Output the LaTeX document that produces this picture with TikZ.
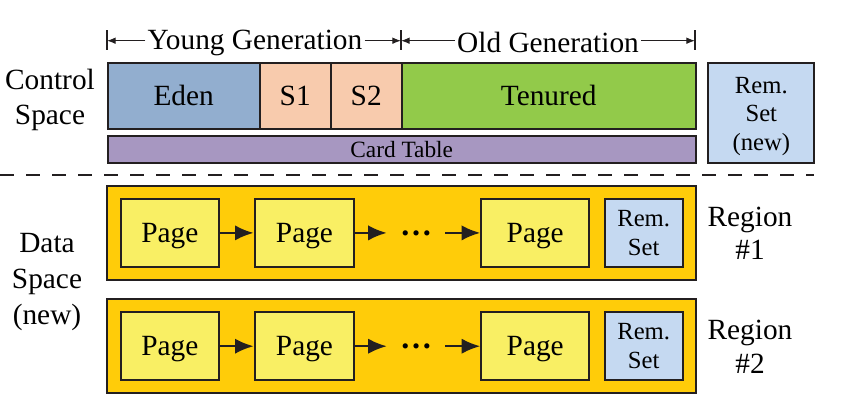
\documentclass[tikz,border=0pt]{standalone}
\usepackage{fontspec}
\setmainfont{Liberation Serif}
\usetikzlibrary{arrows.meta}

\definecolor{edenblue}{RGB}{146,174,207}
\definecolor{survpeach}{RGB}{248,203,173}
\definecolor{tenuredgreen}{RGB}{146,202,74}
\definecolor{cardpurple}{RGB}{167,151,193}
\definecolor{remblue}{RGB}{197,217,241}
\definecolor{regiongold}{RGB}{255,204,9}
\definecolor{pageyellow}{RGB}{249,239,100}
\definecolor{edge}{RGB}{35,31,32}

\tikzset{every picture/.style={line width=1.5pt}}
\tikzset{
  box/.style={draw=edge, inner sep=0pt, font=\fontsize{22}{26}\selectfont},
  remset/.style={box, fill=remblue, align=center, font=\fontsize{18.5}{21.5}\selectfont},
  page/.style={box, fill=pageyellow, minimum height=50.8pt, text depth=0pt},
  region/.style={box, fill=regiongold, minimum width=441.75pt, minimum height=70.5pt},
  label/.style={align=center, inner sep=0pt, font=\fontsize{22}{26.25}\selectfont},
  link/.style={draw=edge, line width=1.9pt, -{Latex[length=14pt,width=11.5pt]}},
  span/.style={draw=edge, line width=0.8pt, -{Latex[length=6.5pt,width=5pt]}}
}

\begin{document}
\begin{tikzpicture}[x=0.75pt,y=0.75pt,yscale=-1,xscale=1]
\useasboundingbox (0,0) rectangle (864,414);

%Generation spans
\draw[edge, line width=0.8pt] (107,30) -- (107,50) (401,30) -- (401,50) (695,30) -- (695,50) ;
\coordinate (yl) at (107,40.7);
\coordinate (ym) at (401,40.7);
\coordinate (yr) at (695,40.7);
% Text Node
\node[label, inner sep=1pt] (young) at (255,42.5) {Young Generation};
% Text Node
\node[label, inner sep=1pt] (old) at (548,42.5) {Old Generation};
\draw[span] (young.west |- yl) -- (yl);
\draw[span] (young.east |- ym) -- (ym);
\draw[span] (old.west |- ym) -- (ym);
\draw[span] (old.east |- yr) -- (yr);

%Control space
\node[label] (ctrl) at (50,100) {Control\\Space};
\node[box, fill=edenblue, minimum width=114pt, minimum height=49.5pt] (eden) at (183.7,95.7) {Eden};
\node[box, fill=survpeach, minimum width=53.25pt, minimum height=49.5pt] (s1) at (295.2,95.7) {S1};
\node[box, fill=survpeach, minimum width=53.25pt, minimum height=49.5pt] (s2) at (366.2,95.7) {S2};
\node[box, fill=tenuredgreen, minimum width=220.5pt, minimum height=49.5pt] (tenured) at (548.7,95.7) {Tenured};
\node[box, fill=cardpurple, minimum width=441pt, minimum height=20pt, font=\fontsize{17.5}{20}\selectfont] (card) at (401.7,149.3) {Card Table};
\node[box, fill=remblue, minimum width=79.5pt, minimum height=75pt] (rsnew) at (761.3,112.7) {};
% Text Node
\node[align=center, inner sep=0pt, font=\fontsize{18.5}{21.5}\selectfont] (rsnewtxt) at (761.3,116.5) {Rem.\\Set\\(new)};

%Separator
\draw[edge, line width=1.1pt, dash pattern=on 10.5pt off 9pt] (0,175) -- (814,175) ;

%Data space
\node[label, font=\fontsize{22}{27}\selectfont] (data) at (47,282) {Data\\Space\\(new)};

%Region 1
\node[region] (reg1) at (401.2,233) {};
\node[page, minimum width=73.3pt] (pg11) at (169.9,232.9) {Page};
\node[page, minimum width=74.7pt] (pg12) at (304.5,232.9) {Page};
\node[inner sep=0pt, minimum width=42.2pt, font=\fontsize{24}{26}\selectfont\bfseries] (dots1) at (416,232.9) {\dots};
\node[page, minimum width=80.8pt] (pg13) at (535.2,232.9) {Page};
\node[remset, minimum width=58.5pt, minimum height=50.8pt] (rs1) at (643.7,232.9) {Rem.\\Set};
\draw[link] (pg11) -- (pg12);
\draw[link] (pg12) -- (dots1);
\draw[link] (dots1) -- (pg13);
\node[label, font=\fontsize{22}{25}\selectfont] (lab1) at (750,233.5) {Region\\\#1};

%Region 2
\node[region] (reg2) at (401.2,346.2) {};
\node[page, minimum width=73.3pt] (pg21) at (169.9,346.2) {Page};
\node[page, minimum width=74.7pt] (pg22) at (304.5,346.2) {Page};
\node[inner sep=0pt, minimum width=42.2pt, font=\fontsize{24}{26}\selectfont\bfseries] (dots2) at (416,346.2) {\dots};
\node[page, minimum width=80.8pt] (pg23) at (535.2,346.2) {Page};
\node[remset, minimum width=58.5pt, minimum height=50.8pt] (rs2) at (643.7,346.2) {Rem.\\Set};
\draw[link] (pg21) -- (pg22);
\draw[link] (pg22) -- (dots2);
\draw[link] (dots2) -- (pg23);
\node[label, font=\fontsize{22}{25}\selectfont] (lab2) at (750,346.7) {Region\\\#2};

\end{tikzpicture}
\end{document}
